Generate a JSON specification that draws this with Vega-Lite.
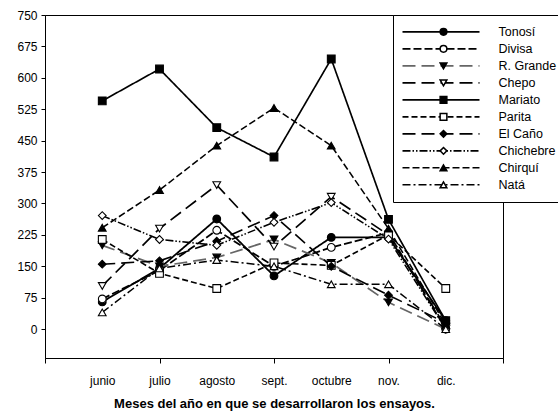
{
  "$schema": "https://vega.github.io/schema/vega-lite/v6.json",
  "width": 458,
  "height": 343,
  "autosize": {"type": "none"},
  "padding": {"left": 45, "top": 15, "right": 55, "bottom": 56},
  "config": {
    "font": "Liberation Sans",
    "view": {"stroke": "#000", "strokeWidth": 1},
    "axis": {"grid": false, "domainColor": "#000", "tickColor": "#000", "labelColor": "#000", "labelFontSize": 12, "titleColor": "#000"}
  },
  "data": {
    "values": [
      {"n": 1, "sitio": "Tonosí", "v": 65}, {"n": 2, "sitio": "Tonosí", "v": 145}, {"n": 3, "sitio": "Tonosí", "v": 263}, {"n": 4, "sitio": "Tonosí", "v": 127}, {"n": 5, "sitio": "Tonosí", "v": 219}, {"n": 6, "sitio": "Tonosí", "v": 219}, {"n": 7, "sitio": "Tonosí", "v": 20},
      {"n": 1, "sitio": "Divisa", "v": 72}, {"n": 2, "sitio": "Divisa", "v": 140}, {"n": 3, "sitio": "Divisa", "v": 236}, {"n": 4, "sitio": "Divisa", "v": 150}, {"n": 5, "sitio": "Divisa", "v": 195}, {"n": 6, "sitio": "Divisa", "v": 230}, {"n": 7, "sitio": "Divisa", "v": 0},
      {"n": 1, "sitio": "R. Grande", "v": 200}, {"n": 2, "sitio": "R. Grande", "v": 150}, {"n": 3, "sitio": "R. Grande", "v": 171}, {"n": 4, "sitio": "R. Grande", "v": 214}, {"n": 5, "sitio": "R. Grande", "v": 158}, {"n": 6, "sitio": "R. Grande", "v": 64}, {"n": 7, "sitio": "R. Grande", "v": 0},
      {"n": 1, "sitio": "Chepo", "v": 103}, {"n": 2, "sitio": "Chepo", "v": 240}, {"n": 3, "sitio": "Chepo", "v": 344}, {"n": 4, "sitio": "Chepo", "v": 197}, {"n": 5, "sitio": "Chepo", "v": 316}, {"n": 6, "sitio": "Chepo", "v": 225}, {"n": 7, "sitio": "Chepo", "v": 5},
      {"n": 1, "sitio": "Mariato", "v": 545}, {"n": 2, "sitio": "Mariato", "v": 621}, {"n": 3, "sitio": "Mariato", "v": 481}, {"n": 4, "sitio": "Mariato", "v": 411}, {"n": 5, "sitio": "Mariato", "v": 645}, {"n": 6, "sitio": "Mariato", "v": 262}, {"n": 7, "sitio": "Mariato", "v": 20},
      {"n": 1, "sitio": "Parita", "v": 214}, {"n": 2, "sitio": "Parita", "v": 133}, {"n": 3, "sitio": "Parita", "v": 97}, {"n": 4, "sitio": "Parita", "v": 158}, {"n": 5, "sitio": "Parita", "v": 152}, {"n": 6, "sitio": "Parita", "v": 225}, {"n": 7, "sitio": "Parita", "v": 97},
      {"n": 1, "sitio": "El Caño", "v": 155}, {"n": 2, "sitio": "El Caño", "v": 163}, {"n": 3, "sitio": "El Caño", "v": 210}, {"n": 4, "sitio": "El Caño", "v": 271}, {"n": 5, "sitio": "El Caño", "v": 150}, {"n": 6, "sitio": "El Caño", "v": 81}, {"n": 7, "sitio": "El Caño", "v": 15},
      {"n": 1, "sitio": "Chichebre", "v": 271}, {"n": 2, "sitio": "Chichebre", "v": 214}, {"n": 3, "sitio": "Chichebre", "v": 200}, {"n": 4, "sitio": "Chichebre", "v": 255}, {"n": 5, "sitio": "Chichebre", "v": 302}, {"n": 6, "sitio": "Chichebre", "v": 215}, {"n": 7, "sitio": "Chichebre", "v": 0},
      {"n": 1, "sitio": "Chirquí", "v": 242}, {"n": 2, "sitio": "Chirquí", "v": 332}, {"n": 3, "sitio": "Chirquí", "v": 438}, {"n": 4, "sitio": "Chirquí", "v": 528}, {"n": 5, "sitio": "Chirquí", "v": 438}, {"n": 6, "sitio": "Chirquí", "v": 240}, {"n": 7, "sitio": "Chirquí", "v": 10},
      {"n": 1, "sitio": "Natá", "v": 40}, {"n": 2, "sitio": "Natá", "v": 145}, {"n": 3, "sitio": "Natá", "v": 165}, {"n": 4, "sitio": "Natá", "v": 150}, {"n": 5, "sitio": "Natá", "v": 107}, {"n": 6, "sitio": "Natá", "v": 107}, {"n": 7, "sitio": "Natá", "v": 0}
    ]
  },
  "encoding": {
    "x": {
      "field": "n", "type": "quantitative",
      "scale": {"domain": [0, 8], "nice": false, "zero": false},
      "axis": {
        "values": [0, 1, 2, 3, 4, 5, 6, 7, 8],
        "tickSize": 5,
        "tickOpacity": {"condition": {"test": "datum.value % 2 == 0", "value": 1}, "value": 0},
        "labelExpr": "['', 'junio', 'julio', 'agosto', 'sept.', 'octubre', 'nov.', 'dic.', ''][datum.value]",
        "labelPadding": 12,
        "title": "Meses del año en que se desarrollaron los ensayos.",
        "titleFontSize": 13,
        "titleFontWeight": "bold",
        "titlePadding": 11
      }
    },
    "y": {
      "field": "v", "type": "quantitative",
      "scale": {"domain": [-69, 750], "nice": false, "zero": false},
      "axis": {
        "values": [0, 75, 150, 225, 300, 375, 450, 525, 600, 675, 750],
        "tickSize": 4,
        "labelPadding": 4,
        "title": null
      }
    }
  },
  "layer": [
    {
      "mark": {"type": "line"},
      "encoding": {
        "color": {
          "field": "sitio", "type": "nominal",
          "scale": {
            "domain": ["Tonosí", "Divisa", "R. Grande", "Chepo", "Mariato", "Parita", "El Caño", "Chichebre", "Chirquí", "Natá"],
            "range": ["#000", "#000", "#666", "#000", "#000", "#000", "#000", "#000", "#000", "#000"]
          },
          "legend": {
            "orient": "none", "legendX": 348, "legendY": 0,
            "title": null,
            "symbolType": "stroke",
            "symbolSize": 5929,
            "symbolStrokeWidth": 1.6,
            "clipHeight": 16.7,
            "labelOffset": 18,
            "labelFontSize": 12.5,
            "labelColor": "#000",
            "rowPadding": 0,
            "padding": 8.5,
            "strokeColor": "#000",
            "fillColor": "#fff"
          }
        },
        "strokeDash": {
          "field": "sitio", "type": "nominal",
          "scale": {
            "domain": ["Tonosí", "Divisa", "R. Grande", "Chepo", "Mariato", "Parita", "El Caño", "Chichebre", "Chirquí", "Natá"],
            "range": [[1, 0], [8, 3], [13, 6], [13, 6], [1, 0], [6, 3], [13, 6], [8, 2, 1.5, 2, 1.5, 2], [7, 3], [8, 3, 2, 3]]
          },
          "legend": {"orient": "none", "legendX": 348, "legendY": 0}
        },
        "strokeWidth": {
          "field": "sitio", "type": "nominal",
          "scale": {
            "domain": ["Tonosí", "Divisa", "R. Grande", "Chepo", "Mariato", "Parita", "El Caño", "Chichebre", "Chirquí", "Natá"],
            "range": [1.8, 1.5, 2.2, 2.2, 1.7, 1.4, 2.2, 1.5, 1.5, 1.4]
          },
          "legend": null
        }
      }
    },
    {
      "mark": {"type": "point", "filled": false, "stroke": "#000", "strokeWidth": 1.1, "opacity": 1, "size": 60},
      "encoding": {
        "shape": {
          "field": "sitio", "type": "nominal",
          "scale": {
            "domain": ["Natá", "Chirquí", "Chichebre", "El Caño", "Parita", "Mariato", "Chepo", "R. Grande", "Divisa", "Tonosí"],
            "range": ["triangle-up", "triangle-up", "diamond", "diamond", "square", "square", "triangle-down", "triangle-down", "circle", "circle"]
          },
          "legend": {
            "orient": "none", "legendX": 384, "legendY": 0,
            "title": null,
            "values": ["Tonosí", "Divisa", "R. Grande", "Chepo", "Mariato", "Parita", "El Caño", "Chichebre", "Chirquí", "Natá"],
            "symbolSize": 45,
            "clipHeight": 16.7,
            "labelExpr": "' '",
            "labelFontSize": 12,
            "rowPadding": 0,
            "padding": 8.5,
            "encode": {"symbols": {"update": {"stroke": {"value": "#000"}, "strokeWidth": {"value": 1}}}}
          }
        },
        "fill": {
          "field": "sitio", "type": "nominal",
          "scale": {
            "domain": ["Natá", "Chirquí", "Chichebre", "El Caño", "Parita", "Mariato", "Chepo", "R. Grande", "Divisa", "Tonosí"],
            "range": ["#fff", "#000", "#fff", "#000", "#fff", "#000", "#fff", "#000", "#fff", "#000"]
          },
          "legend": {"orient": "none", "legendX": 384, "legendY": 0}
        }
      }
    }
  ]
}
